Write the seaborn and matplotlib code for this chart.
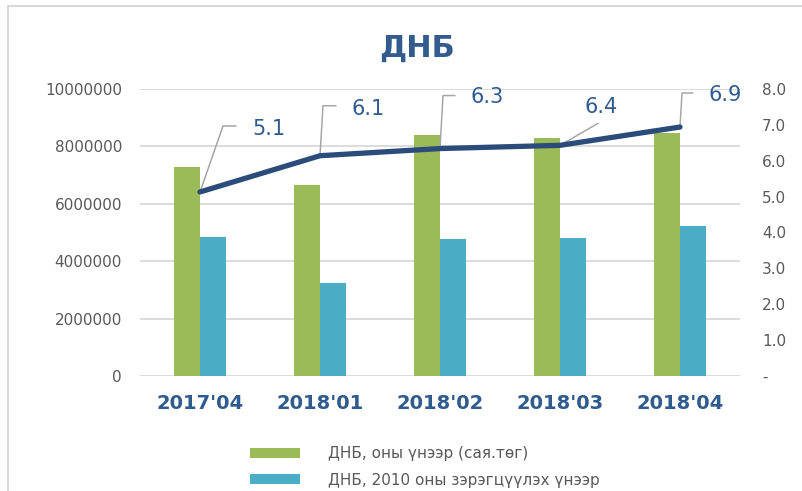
import numpy as np
import pandas as pd
import matplotlib
matplotlib.use("Agg")
import matplotlib.pyplot as plt
from matplotlib.lines import Line2D
from matplotlib.patches import Rectangle
from matplotlib.transforms import Affine2D, ScaledTranslation
import seaborn as sns

categories = ["2017'04", "2018'01", "2018'02", "2018'03", "2018'04"]
gdp_nominal = [7290000, 6640000, 8410000, 8280000, 8450000]
gdp_real = [4830000, 3250000, 4790000, 4810000, 5220000]
growth = [5.13, 6.14, 6.34, 6.43, 6.94]
series_names = ["ДНБ, оны үнээр (сая.төг)", "ДНБ, 2010 оны зэрэгцүүлэх үнээр"]

# label leader offsets in pixels: corner, end of leader, text start
label_offsets = [
    ((23, 66), (36, 66), (52, 63)),
    ((3, 50), (16, 50), (32, 47)),
    ((3, 53), (15, 53), (31, 52)),
    ((38, 22), (38, 22), (25, 38)),
    ((2, 34), (13, 34), (29, 32)),
]

sns.set_style("white")
plt.rcParams["font.family"] = ["DejaVu Sans"]

green = "#9BBB59"
blue = "#4BACC6"
navy = "#2B4C7A"
label_blue = "#2F5B8E"
grey_txt = "#595959"
grid_col = "#D9D9D9"

df = pd.DataFrame({
    "period": categories * 2,
    "value": gdp_nominal + gdp_real,
    "series": [series_names[0]] * len(categories) + [series_names[1]] * len(categories),
})

fig = plt.figure(figsize=(8.03, 4.91), dpi=100)
ax = fig.add_axes([140 / 803, 1 - 376 / 491, 600 / 803, (376 - 89) / 491])

sns.barplot(data=df, x="period", y="value", hue="series", hue_order=series_names,
            palette=[green, blue], saturation=1, width=0.43, linewidth=0, ax=ax)

handles, labels = ax.get_legend_handles_labels()
ax.get_legend().remove()

ax.set_xlim(-0.5, len(categories) - 0.5)
ax.set_ylim(0, 10000000)
ax.set_yticks(np.arange(0, 10000001, 2000000))
ax.set_yticklabels([f"{int(v)}" for v in np.arange(0, 10000001, 2000000)])
ax.yaxis.grid(True, color=grid_col, lw=1.3)
ax.set_axisbelow(True)
for s in ax.spines.values():
    s.set_visible(False)
ax.set_xlabel("")
ax.set_ylabel("")
ax.tick_params(axis="y", length=0, pad=13, labelsize=11, labelcolor=grey_txt)
ax.tick_params(axis="x", length=0, pad=13, labelsize=14, labelcolor=label_blue)
for t in ax.get_xticklabels():
    t.set_fontweight("bold")

ax2 = ax.twinx()
x_pos = np.arange(len(categories))
sns.lineplot(x=x_pos, y=growth, color=navy, lw=3.8, ax=ax2,
             solid_capstyle="round", solid_joinstyle="round")
ax2.set_ylim(0, 8)
ax2.set_yticks(np.arange(0, 9, 1))
ax2.set_yticklabels(["-"] + [f"{v:.1f}" for v in np.arange(1, 9, 1)])
ax2.tick_params(axis="y", length=0, pad=16, labelsize=11, labelcolor=grey_txt)
for s in ax2.spines.values():
    s.set_visible(False)
ax2.set_ylabel("")

for i, v in enumerate(growth):
    (cx, cy), (ex, ey), (tx, ty) = label_offsets[i]
    tr = Affine2D() + ScaledTranslation(x_pos[i], v, ax2.transData)
    ln = Line2D([0, cx, ex], [0, cy, ey], color="#A6A6A6", lw=1.1, transform=tr, clip_on=False, zorder=1)
    ax2.add_line(ln)
    ax2.text(tx, ty, f"{v:.1f}", transform=tr, ha="left", va="center",
             fontsize=15, color=label_blue, clip_on=False)

fig.text(417 / 803, 1 - 57 / 491, "ДНБ", ha="center", va="baseline",
         fontsize=22, fontweight="bold", color="#335B8E")

fig.legend(handles, labels, loc="center left", bbox_to_anchor=(250 / 803, 1 - 467 / 491),
           frameon=False, fontsize=11, labelcolor=grey_txt, handlelength=3.3, handleheight=0.6,
           handletextpad=1.8, labelspacing=0.75, borderpad=0, borderaxespad=0)

fig.patches.append(Rectangle((8 / 803, -0.05), 1.0, 1.05 - 6 / 491, transform=fig.transFigure,
                             fill=False, edgecolor=grid_col, lw=1.5))

fig.savefig("out.png", dpi=100)
